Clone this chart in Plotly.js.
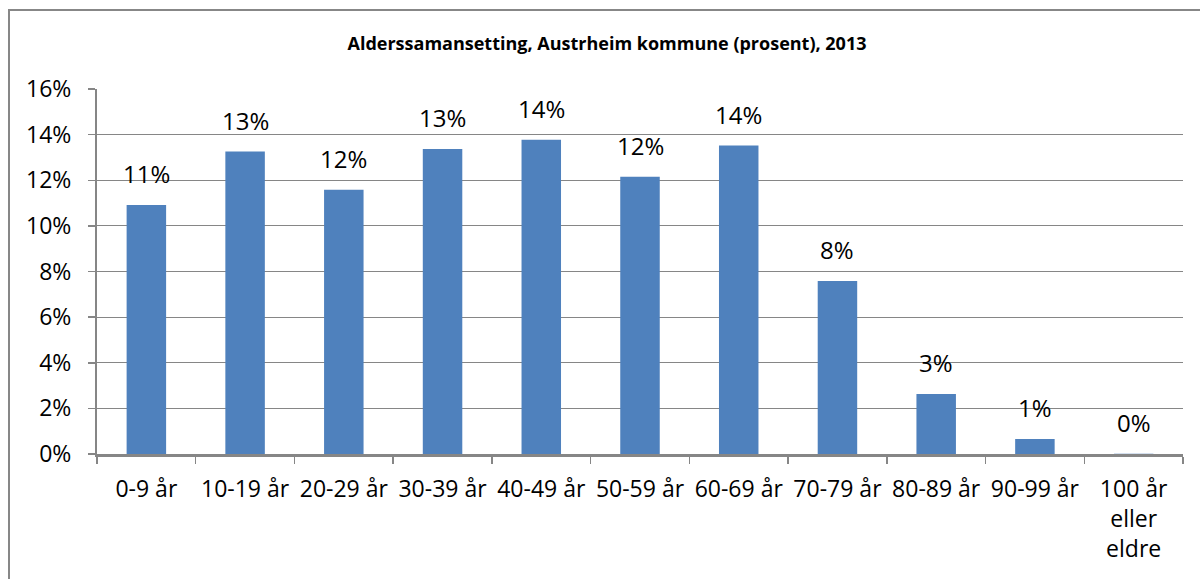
<!DOCTYPE html>
<html>
<head>
<meta charset="utf-8">
<script src="https://cdn.plot.ly/plotly-3.0.1.min.js"></script>
<style>
  html, body { margin: 0; padding: 0; background: #fff; overflow: hidden; }
  #chart { width: 1200px; height: 579px; position: absolute; left: 0; top: 0; }
  #frame { position: absolute; left: 8px; top: 9px; width: 1400px; height: 800px;
           border: 2px solid #878787; pointer-events: none; }
</style>
</head>
<body>
<div id="chart"></div>
<div id="frame"></div>
<script>
const categories = ["0-9 år", "10-19 år", "20-29 år", "30-39 år", "40-49 år", "50-59 år",
                    "60-69 år", "70-79 år", "80-89 år", "90-99 år", "100 år<br>eller<br>eldre"];
const values = [10.92, 13.26, 11.58, 13.37, 13.77, 12.15, 13.52, 7.58, 2.63, 0.66, 0.01];
const yTickVals = [0, 2, 4, 6, 8, 10, 12, 14, 16];
const yTickText = ["0%", "2%", "4%", "6%", "8%", "10%", "12%", "14%", "16%"];
const titleText = "Alderssamansetting, Austrheim kommune (prosent), 2013";

const FONT = "Open Sans, Noto Sans, sans-serif";
const GRAY = "#868686";

const trace = {
  type: "bar",
  x: categories,
  y: values,
  marker: { color: "#4F81BD", line: { width: 0 } },
  hoverinfo: "skip"
};

const annotations = categories.map((c, i) => ({
  x: c, y: values[i], xref: "x", yref: "y",
  text: Math.round(values[i]) + "%",
  showarrow: false, yanchor: "bottom", yshift: 13,
  font: { family: FONT, size: 24, color: "#000" }
}));

const layout = {
  width: 1200, height: 579,
  margin: { l: 97, r: 17, t: 89, b: 125 },
  paper_bgcolor: "#fff", plot_bgcolor: "#fff",
  showlegend: false,
  bargap: 0.6,
  title: {
    text: "<b>" + titleText + "</b>",
    font: { family: FONT, size: 18, color: "#000" },
    x: 607 / 1200, xref: "container", xanchor: "center",
    y: 1 - 44 / 579, yref: "container", yanchor: "middle"
  },
  xaxis: {
    type: "category",
    tickson: "boundaries",
    ticks: "outside", ticklen: 7, tickcolor: GRAY, tickwidth: 1.5,
    showline: true, linecolor: GRAY, linewidth: 2.5,
    showgrid: false, zeroline: false,
    tickfont: { family: FONT, size: 23, color: "#000" },
    ticklabelstandoff: 13,
    fixedrange: true
  },
  yaxis: {
    range: [0, 16],
    tickvals: yTickVals, ticktext: yTickText,
    ticks: "outside", ticklen: 7, tickcolor: GRAY, tickwidth: 1.5,
    showline: true, linecolor: GRAY, linewidth: 2,
    showgrid: true, gridcolor: GRAY, gridwidth: 1,
    zeroline: false,
    tickfont: { family: FONT, size: 23, color: "#000" },
    ticklabelstandoff: 12,
    fixedrange: true
  },
  annotations: annotations
};

Plotly.newPlot("chart", [trace], layout, { displayModeBar: false, staticPlot: true });
</script>
</body>
</html>
